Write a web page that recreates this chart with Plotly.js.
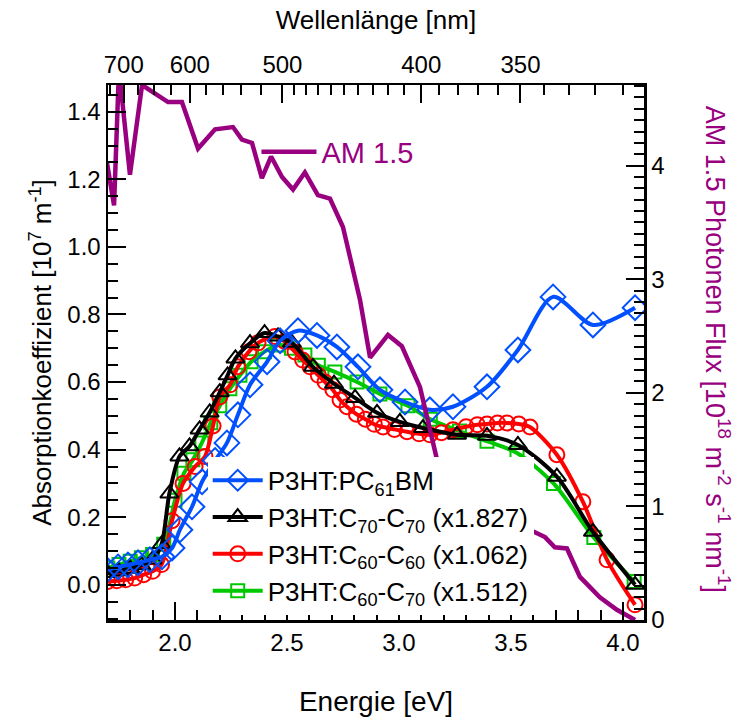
<!DOCTYPE html>
<html>
<head>
<meta charset="utf-8">
<script src="https://cdn.plot.ly/plotly-3.0.1.min.js"></script>
<style>html,body{margin:0;padding:0;background:#fff}#chart{width:742px;height:720px}</style>
</head>
<body>
<div id="chart"></div>
<script>
// ---- data (energy in eV, absorption in 1e7 m^-1, photon flux in 1e18 m^-2 s^-1 nm^-1) ----
const E_pcbm = [1.696,1.746,1.790,1.835,1.888,1.942,1.987,2.022,2.076,2.121,2.179,2.232,2.281,2.335,2.411,2.469,2.549,2.634,2.723,2.817,2.915,3.027,3.138,3.241,3.393,3.531,3.688,3.866,4.054];
const A_pcbm = [0.044,0.053,0.059,0.065,0.074,0.083,0.109,0.163,0.231,0.305,0.368,0.420,0.503,0.592,0.660,0.722,0.752,0.738,0.704,0.645,0.577,0.541,0.518,0.527,0.586,0.695,0.852,0.769,0.820];

const E_c70c70 = [1.700,1.750,1.800,1.850,1.900,1.940,1.975,2.020,2.065,2.110,2.155,2.200,2.235,2.270,2.335,2.400,2.460,2.522,2.616,2.710,2.804,2.902,3.004,3.107,3.259,3.393,3.531,3.705,3.866,4.054];
const A_c70c70 = [0.035,0.040,0.048,0.058,0.075,0.120,0.270,0.380,0.410,0.460,0.510,0.570,0.620,0.670,0.715,0.745,0.735,0.716,0.645,0.595,0.553,0.509,0.482,0.464,0.444,0.441,0.414,0.320,0.157,0.000];

const E_c60c60 = [1.700,1.740,1.780,1.820,1.860,1.900,1.940,1.987,2.036,2.090,2.134,2.170,2.200,2.246,2.281,2.330,2.371,2.446,2.490,2.536,2.570,2.603,2.640,2.670,2.705,2.737,2.768,2.810,2.850,2.890,2.929,2.980,3.036,3.090,3.138,3.190,3.241,3.300,3.350,3.393,3.440,3.482,3.535,3.585,3.705,3.821,3.929,4.054];
const A_c60c60 = [0.010,0.012,0.015,0.020,0.030,0.040,0.060,0.190,0.300,0.350,0.380,0.470,0.556,0.592,0.645,0.690,0.716,0.735,0.720,0.689,0.665,0.645,0.620,0.600,0.577,0.547,0.527,0.505,0.490,0.475,0.467,0.460,0.453,0.447,0.444,0.450,0.459,0.468,0.474,0.476,0.479,0.479,0.476,0.467,0.385,0.246,0.074,-0.059];

const E_c60c70 = [1.700,1.750,1.800,1.850,1.900,1.950,2.000,2.040,2.080,2.120,2.160,2.200,2.245,2.290,2.340,2.400,2.460,2.520,2.580,2.640,2.714,2.813,2.915,3.040,3.140,3.270,3.393,3.527,3.690,3.870,4.050];
const A_c60c70 = [0.050,0.060,0.070,0.080,0.090,0.120,0.250,0.330,0.370,0.420,0.480,0.530,0.580,0.620,0.660,0.690,0.710,0.700,0.680,0.650,0.630,0.600,0.565,0.530,0.490,0.455,0.425,0.390,0.300,0.140,0.010];

const E_am15 = [1.696,1.728,1.750,1.799,1.853,1.902,1.969,2.031,2.103,2.179,2.259,2.299,2.344,2.388,2.429,2.478,2.527,2.580,2.638,2.692,2.750,2.826,2.871,2.951,3.013,3.094,3.170,3.263,3.360,3.470,3.560,3.652,3.696,3.750,3.808,3.897,3.973,4.054];
const F_am15 = [4.03,3.65,4.85,3.92,4.71,4.65,4.56,4.56,4.15,4.32,4.34,4.23,4.20,3.89,4.08,3.90,3.79,3.94,3.74,3.71,3.46,2.82,2.31,2.51,2.41,2.05,1.41,1.37,1.02,0.90,0.82,0.73,0.64,0.63,0.38,0.20,0.09,0.00];

const seriesNames = ['P3HT:PC<sub>61</sub>BM','P3HT:C<sub>70</sub>-C<sub>70</sub> (x1.827)','P3HT:C<sub>60</sub>-C<sub>60</sub> (x1.062)','P3HT:C<sub>60</sub>-C<sub>70</sub> (x1.512)'];
const amName = 'AM 1.5';

const wlLabels = [700,600,500,400,350];
const wlMinor = [725,675,650,625,580,560,540,520,490,480,470,460,450,440,430,420,410,390,380,370,360,340,330,320,310];

const HC = 1239.84; // nm*eV
const FONT = 'Liberation Sans, Arial, Helvetica, sans-serif';
const PURPLE = '#990080';

const traces = [
  {x:E_c60c70, y:A_c60c70, name:seriesNames[3], legendrank:4, type:'scatter', mode:'lines+markers',
   line:{color:'#00c800', width:4, shape:'spline', smoothing:0.8},
   marker:{symbol:'square-open', size:13, color:'#00c800', line:{width:2}}},
  {x:E_c60c60, y:A_c60c60, name:seriesNames[2], legendrank:3, type:'scatter', mode:'lines+markers',
   line:{color:'#ff0000', width:4, shape:'spline', smoothing:0.8},
   marker:{symbol:'circle-open', size:15, color:'#ff0000', line:{width:2}}},
  {x:E_c70c70, y:A_c70c70, name:seriesNames[1], legendrank:2, type:'scatter', mode:'lines+markers',
   line:{color:'#000000', width:4, shape:'spline', smoothing:0.8},
   marker:{symbol:'triangle-up-open', size:16, color:'#000000', line:{width:2}}},
  {x:E_pcbm, y:A_pcbm, name:seriesNames[0], legendrank:1, type:'scatter', mode:'lines+markers',
   line:{color:'#0050ff', width:4, shape:'spline', smoothing:0.8},
   marker:{symbol:'diamond-open', size:19, color:'#0050ff', line:{width:2}}},
  {x:E_am15, y:F_am15, name:amName, type:'scatter', mode:'lines', xaxis:'x2', yaxis:'y2', legend:'legend2',
   line:{color:PURPLE, width:4.5}}
];

const axisCommon = {
  showline:true, linecolor:'#000', linewidth:2.5, ticks:'inside', tickcolor:'#000', tickwidth:2, ticklen:18,
  showgrid:false, zeroline:false, tickfont:{family:FONT, size:24, color:'#000'}, mirror:false
};
const minorCommon = {ticks:'inside', ticklen:10, tickwidth:2, tickcolor:'#000', showgrid:false};

const layout = {
  width:742, height:720,
  margin:{l:108, r:98, t:85, b:100},
  paper_bgcolor:'#fff', plot_bgcolor:'#fff',
  font:{family:FONT, size:24, color:'#000'},
  xaxis: Object.assign({}, axisCommon, {
    range:[1.701, 4.094], tickmode:'linear', dtick:0.5, tick0:0, tickformat:'.1f',
    minor:Object.assign({dtick:0.1, tick0:0}, minorCommon),
    title:{text:'Energie [eV]', font:{family:FONT, size:28, color:'#000'}, standoff:36}
  }),
  xaxis2: Object.assign({}, axisCommon, {
    overlaying:'x', side:'top', range:[1.701, 4.094], anchor:'y2',
    tickmode:'array', tickvals:wlLabels.map(w=>HC/w), ticktext:wlLabels.map(String),
    minor:Object.assign({tickmode:'array', tickvals:wlMinor.map(w=>HC/w)}, minorCommon),
    title:{text:'Wellenlänge [nm]', font:{family:FONT, size:26, color:'#000'}, standoff:14}
  }),
  yaxis: Object.assign({}, axisCommon, {
    range:[-0.104, 1.479], tickmode:'linear', dtick:0.2, tick0:0, tickformat:'.1f',
    minor:Object.assign({dtick:0.05, tick0:0}, minorCommon),
    title:{text:'Absorptionkoeffizient [10<sup>7</sup> m<sup>-1</sup>]', font:{family:FONT, size:26, color:'#000'}, standoff:8}
  }),
  yaxis2: Object.assign({}, axisCommon, {
    overlaying:'y', side:'right', anchor:'x', range:[0, 4.71], tickmode:'linear', dtick:1, tick0:0,
    minor:Object.assign({dtick:0.1, tick0:0}, minorCommon)
  }),
  showlegend:true,
  legend:{x:0.186, y:0.305, xanchor:'left', yanchor:'top', bgcolor:'#ffffff', borderwidth:0,
    font:{family:FONT, size:26, color:'#000'}, itemwidth:50, tracegroupgap:0, traceorder:'normal'},
  legend2:{x:0.277, y:0.875, xanchor:'left', yanchor:'middle', bgcolor:'rgba(0,0,0,0)', borderwidth:0,
    font:{family:FONT, size:29, color:PURPLE}, itemwidth:55},
  annotations:[{
    text:'AM 1.5 Photonen Flux [10<sup>18</sup> m<sup>-2</sup> s<sup>-1</sup> nm<sup>-1</sup>]',
    xref:'paper', yref:'paper', x:1.138, y:0.505, xanchor:'center', yanchor:'middle',
    textangle:90, showarrow:false, font:{family:FONT, size:27, color:PURPLE}
  }]
};

Plotly.newPlot('chart', traces, layout, {displayModeBar:false, staticPlot:true});
</script>
</body>
</html>
